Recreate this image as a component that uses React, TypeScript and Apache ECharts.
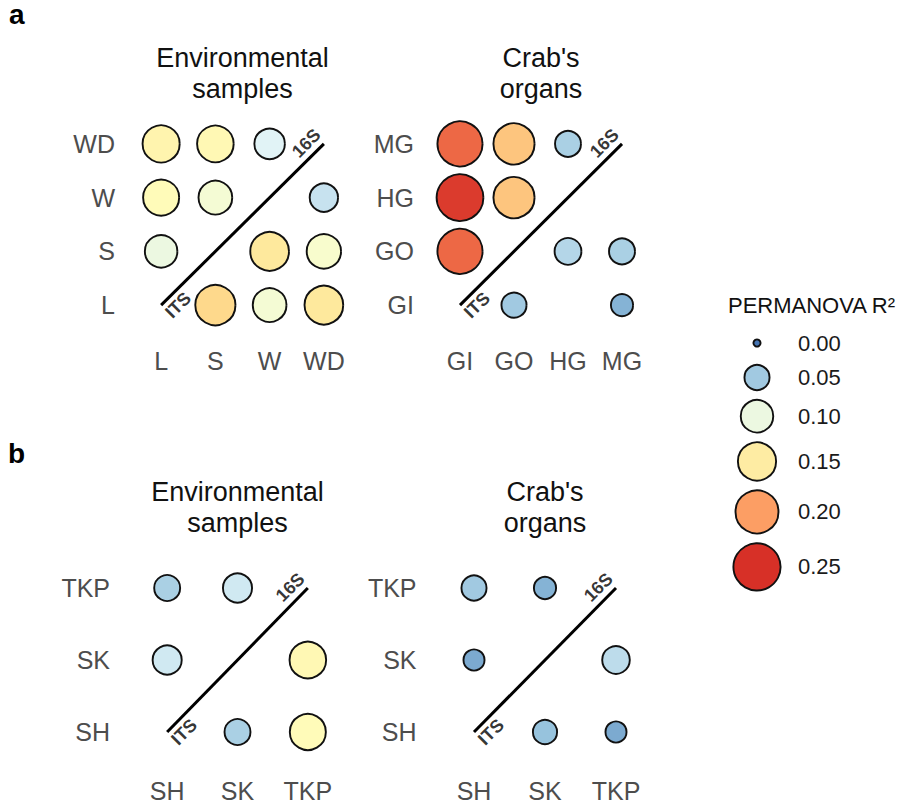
import React, { useEffect, useRef } from "react";
import * as echarts from "echarts";

// ---------- DATA ----------
// Panel a, environmental samples (rows = y category, values by x category)
const envACats = ["L", "S", "W", "WD"];
const envA_L = [null, 0.17, 0.11, 0.155];
const envA_S = [0.1, null, 0.155, 0.115];
const envA_W = [0.13, 0.11, null, 0.07];
const envA_WD = [0.14, 0.135, 0.085, null];

// Panel a, crab's organs
const crabACats = ["GI", "GO", "HG", "MG"];
const crabA_GI = [null, 0.05, null, 0.035];
const crabA_GO = [0.225, null, 0.06, 0.055];
const crabA_HG = [0.245, 0.18, null, null];
const crabA_MG = [0.225, 0.18, 0.055, null];

// Panel b, environmental samples
const envBCats = ["SH", "SK", "TKP"];
const envB_SH = [null, 0.055, 0.13];
const envB_SK = [0.075, null, 0.135];
const envB_TKP = [0.055, 0.075, null];

// Panel b, crab's organs
const crabBCats = ["SH", "SK", "TKP"];
const crabB_SH = [null, 0.045, 0.03];
const crabB_SK = [0.03, null, 0.065];
const crabB_TKP = [0.05, 0.035, null];

// Legend
const legendValues = [0, 0.05, 0.1, 0.15, 0.2, 0.25];
const legendTitle = "PERMANOVA R²";
const markerLow = "ITS";
const markerHigh = "16S";

// ---------- STYLE ----------
const FONT = "'Liberation Sans', Arial, Helvetica, sans-serif";
const PALETTE = ["#4575b4", "#91bfdb", "#e0f3f8", "#ffffbf", "#fee090", "#fc8d59", "#d73027"];
const VMAX = 0.25;
const BORDER = 1.9;

function hexToRgb(h: string) {
  const n = parseInt(h.slice(1), 16);
  return [(n >> 16) & 255, (n >> 8) & 255, n & 255];
}
function colorFor(v: number) {
  const t = Math.max(0, Math.min(1, v / VMAX)) * (PALETTE.length - 1);
  const i = Math.min(PALETTE.length - 2, Math.floor(t));
  const f = t - i;
  const a = hexToRgb(PALETTE[i]);
  const b = hexToRgb(PALETTE[i + 1]);
  const c = a.map((x, k) => Math.round(x + (b[k] - x) * f));
  return `rgb(${c[0]},${c[1]},${c[2]})`;
}
function sizeFor(v: number) {
  return 7.2 + 40 * Math.sqrt(Math.max(0, v) / VMAX);
}

const panels = [
  {
    cats: envACats,
    rows: [envA_L, envA_S, envA_W, envA_WD],
    grid: { left: 134, top: 117, width: 217, height: 215 },
    xMargin: 16,
    yMargin: 19,
    title: "Environmental\nsamples",
  },
  {
    cats: crabACats,
    rows: [crabA_GI, crabA_GO, crabA_HG, crabA_MG],
    grid: { left: 433, top: 117, width: 216, height: 215 },
    xMargin: 16,
    yMargin: 19,
    title: "Crab's\norgans",
  },
  {
    cats: envBCats,
    rows: [envB_SH, envB_SK, envB_TKP],
    grid: { left: 132, top: 552, width: 211, height: 216 },
    xMargin: 10,
    yMargin: 22,
    title: "Environmental\nsamples",
  },
  {
    cats: crabBCats,
    rows: [crabB_SH, crabB_SK, crabB_TKP],
    grid: { left: 438.5, top: 552, width: 213, height: 216 },
    xMargin: 10,
    yMargin: 22,
    title: "Crab's\norgans",
  },
];

export default function App() {
  const ref = useRef<HTMLDivElement>(null);
  useEffect(() => {
    if (!ref.current) return;
    const chart = echarts.init(ref.current, null, { renderer: "svg" });

    const grids: any[] = [];
    const xAxes: any[] = [];
    const yAxes: any[] = [];
    const series: any[] = [];
    const graphics: any[] = [];

    panels.forEach((p, i) => {
      grids.push({ ...p.grid, containLabel: false });
      const axisCommon = {
        gridIndex: i,
        type: "category",
        data: p.cats,
        axisLine: { show: false },
        axisTick: { show: false },
        splitLine: { show: false },
      };
      xAxes.push({
        ...axisCommon,
        axisLabel: { color: "#4d4d4d", fontSize: 25, fontFamily: FONT, margin: p.xMargin },
      });
      yAxes.push({
        ...axisCommon,
        axisLabel: { color: "#4d4d4d", fontSize: 25, fontFamily: FONT, margin: p.yMargin },
      });

      const pts: any[] = [];
      p.rows.forEach((row, r) => {
        row.forEach((v, c) => {
          if (v == null) return;
          pts.push({
            value: [p.cats[c], p.cats[r], v],
            symbolSize: sizeFor(v),
            itemStyle: { color: colorFor(v) },
          });
        });
      });
      series.push({
        type: "scatter",
        xAxisIndex: i,
        yAxisIndex: i,
        data: pts,
        itemStyle: { borderColor: "#111", borderWidth: BORDER, opacity: 1 },
        z: 3,
      });

      const first = p.cats[0];
      const last = p.cats[p.cats.length - 1];
      series.push({
        type: "line",
        xAxisIndex: i,
        yAxisIndex: i,
        data: [
          [first, first],
          [last, last],
        ],
        symbol: "none",
        lineStyle: { color: "#000", width: 3 },
        z: 2,
      });
      series.push({
        type: "scatter",
        xAxisIndex: i,
        yAxisIndex: i,
        symbolSize: 1,
        itemStyle: { color: "rgba(0,0,0,0)" },
        label: {
          show: true,
          position: "inside",
          rotate: 45,
          color: "#000",
          fontWeight: "bold",
          fontSize: 18,
          fontFamily: FONT,
          align: "center",
          verticalAlign: "middle",
        },
        data: [
          { value: [first, first], label: { formatter: markerLow, offset: [12, 12] } },
          { value: [last, last], label: { formatter: markerHigh, offset: [-12, -13] } },
        ],
        z: 4,
      });

      graphics.push({
        type: "text",
        x: p.grid.left + p.grid.width / 2,
        y: i < 2 ? 42 : 476,
        style: {
          text: p.title,
          fill: "#111",
          font: `27px ${FONT}`,
          lineHeight: 31,
          align: "center",
          textAlign: "center",
          verticalAlign: "top",
          textVerticalAlign: "top",
        },
      });
    });

    // panel letters
    graphics.push({
      type: "text",
      x: 9,
      y: 28,
      style: { text: "a", fill: "#000", font: `bold 28px ${FONT}`, verticalAlign: "bottom", textVerticalAlign: "bottom" },
    });
    graphics.push({
      type: "text",
      x: 8,
      y: 467,
      style: { text: "b", fill: "#000", font: `bold 28px ${FONT}`, verticalAlign: "bottom", textVerticalAlign: "bottom" },
    });

    // legend
    graphics.push({
      type: "text",
      x: 728,
      y: 305,
      style: {
        text: legendTitle,
        fill: "#111",
        font: `22px ${FONT}`,
        verticalAlign: "middle",
        textVerticalAlign: "middle",
      },
    });
    const keyX = 757;
    let cy = 343;
    const heights = legendValues.map((v) => Math.max(34, sizeFor(v) + BORDER + 8));
    legendValues.forEach((v, k) => {
      if (k > 0) cy += (heights[k - 1] + heights[k]) / 2;
      graphics.push({
        type: "circle",
        shape: { cx: keyX, cy, r: sizeFor(v) / 2 },
        style: { fill: colorFor(v), stroke: "#111", lineWidth: BORDER },
      });
      graphics.push({
        type: "text",
        x: 798,
        y: cy,
        style: {
          text: v.toFixed(2),
          fill: "#1a1a1a",
          font: `22px ${FONT}`,
          verticalAlign: "middle",
          textVerticalAlign: "middle",
        },
      });
    });

    chart.setOption({
      animation: false,
      backgroundColor: "#fff",
      grid: grids,
      xAxis: xAxes,
      yAxis: yAxes,
      series,
      graphic: graphics,
    });
    return () => chart.dispose();
  }, []);
  return (
    <div
      ref={ref}
      style={{ position: "fixed", left: 0, top: 0, width: 905, height: 811 }}
    />
  );
}
